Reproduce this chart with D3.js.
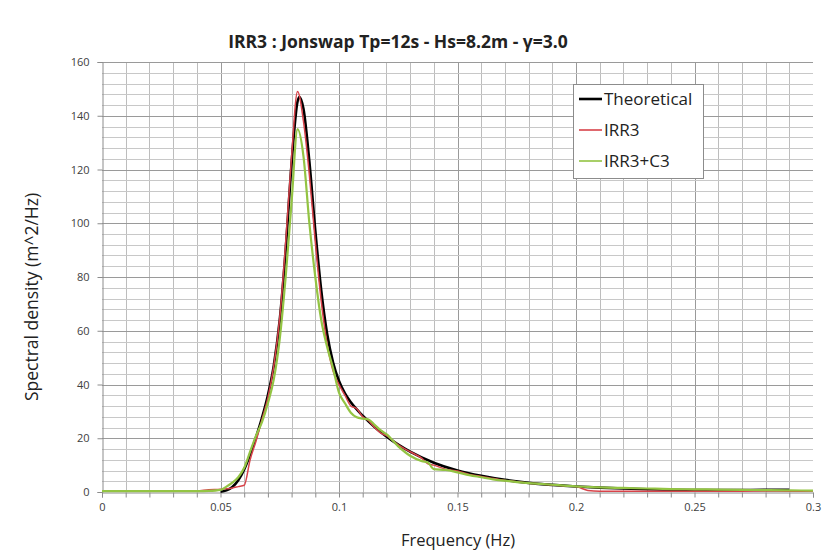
<!DOCTYPE html>
<html><head><meta charset="utf-8">
<script src="https://cdn.jsdelivr.net/npm/d3@7"></script>
<style>body{margin:0;background:#fff}svg{display:block}text{font-family:"Open Sans","Liberation Sans",sans-serif}</style>
</head><body><svg id="c" width="834" height="550"></svg>
<script>
const titleText = "IRR3 : Jonswap Tp=12s - Hs=8.2m - \u03b3=3.0";
const xLabel = "Frequency (Hz)";
const yLabel = "Spectral density (m^2/Hz)";
const seriesNames = ["Theoretical", "IRR3", "IRR3+C3"];
const xTicks = [0, 0.05, 0.1, 0.15, 0.2, 0.25, 0.3];
const xTickLabels = ["0", "0.05", "0.1", "0.15", "0.2", "0.25", "0.3"];
const yTicks = [0, 20, 40, 60, 80, 100, 120, 140, 160];

const theoFreq = [0.05,0.0525,0.055,0.0575,0.06,0.0625,0.065,0.0675,0.07,0.0725,0.075,0.0775,0.08,0.0825,0.0833,0.085,0.0875,0.09,0.0925,0.095,0.0975,0.1,0.1025,0.105,0.11,0.115,0.12,0.125,0.13,0.14,0.15,0.16,0.17,0.18,0.19,0.2,0.21,0.22,0.23,0.24,0.25,0.26,0.27,0.28,0.29];
const theoValues = [0.1,0.6,1.9,4.4,8.4,13.9,20.4,27.6,36.0,47.1,64.0,90.0,122.3,145.3,147.0,142.6,122.9,97.3,75.0,58.8,48.2,41.3,36.7,33.4,28.4,24.2,20.7,17.6,15.0,10.9,8.0,6.0,4.5,3.4,2.65,2.07,1.63,1.3,1.05,0.85,0.75,0.7,0.75,0.8,0.8];

const measFreq = [0,0.01,0.02,0.03,0.04,0.045,0.05,0.0525,0.055,0.0575,0.06,0.0625,0.065,0.0675,0.07,0.0725,0.075,0.0775,0.08,0.0825,0.085,0.0875,0.09,0.0925,0.095,0.0975,0.1,0.1025,0.105,0.1075,0.11,0.1125,0.115,0.1175,0.12,0.125,0.13,0.135,0.1375,0.14,0.145,0.15,0.155,0.16,0.165,0.17,0.175,0.18,0.185,0.19,0.195,0.2,0.205,0.21,0.22,0.23,0.24,0.25,0.26,0.27,0.28,0.29,0.3];
const irr3Values = [0.3,0.3,0.3,0.3,0.4,0.8,1.0,1.2,1.5,2.0,2.5,12,19,27,35,47,65,93,125,149,138,118,93,71,55,45,40,36,32,31,28,26.5,24,22,21,17.5,15,12.5,10.5,10,8.5,7.8,6.5,5.8,5.0,4.3,3.8,3.3,3.0,2.6,2.3,2.0,0.6,0.3,0.3,0.3,0.3,0.3,0.3,0.3,0.4,0.3,0.3];
const irrc3Values = [0.3,0.3,0.3,0.3,0.3,0.4,0.8,2.0,3.5,5.5,9,15,21,26,33,42,57,80,108,135,125,100,80,64,54,46,37,33,29.5,27.8,27.3,27,25,23,21.5,17,13.5,11.5,11,8.5,8.2,7.3,6.3,5.5,4.7,4.2,3.7,3.3,3.0,2.7,2.4,2.1,1.9,1.7,1.5,1.3,1.1,1.0,0.9,0.8,0.7,0.6,0.5];

const colors = ["#000000", "#d8434a", "#93c443"];
const widths = [2.6, 1.5, 2.2];

const svg = d3.select("#c");
const m = {l:102, r:813, t:62, b:492};
const x = d3.scaleLinear().domain([0,0.3]).range([m.l, m.r]);
const y = d3.scaleLinear().domain([0,160]).range([m.b, m.t]);

// grid
const g = svg.append("g");
g.selectAll(".vx").data(d3.range(1,30).map(i=>i/100)).enter().append("line")
  .attr("x1",d=>Math.round(x(d))+0.5).attr("x2",d=>Math.round(x(d))+0.5)
  .attr("y1",m.t).attr("y2",m.b)
  .attr("stroke",(d,i)=>((i+1)%5===0)?"#9a9a9a":"#bdbdbd").attr("stroke-width",1);
g.selectAll(".hy").data(d3.range(1,41).map(i=>i*4)).enter().append("line")
  .attr("y1",d=>Math.round(y(d))+0.5).attr("y2",d=>Math.round(y(d))+0.5)
  .attr("x1",m.l).attr("x2",m.r)
  .attr("stroke",(d)=>(d%20===0)?"#9a9a9a":"#c8c8c8").attr("stroke-width",1);

// axes
const yAxis = d3.axisLeft(y).tickValues(yTicks).tickSize(5).tickFormat(d3.format("d"));
const ya = svg.append("g").attr("transform",`translate(${m.l+0.5},0)`).call(yAxis);
ya.select(".domain").attr("stroke","#8c8c8c");
ya.selectAll(".tick line").attr("stroke","#8c8c8c");
ya.selectAll(".tick text").attr("font-size",11).attr("fill","#404040").attr("x",-13);

const xAxis = d3.axisBottom(x).tickValues(d3.range(0,31).map(i=>i/100)).tickSize(5)
  .tickFormat(d=>{const k=xTicks.findIndex(t=>Math.abs(t-d)<1e-9);return k>=0?xTickLabels[k]:"";});
const xa = svg.append("g").attr("transform",`translate(0,${m.b+0.5})`).call(xAxis);
xa.select(".domain").attr("stroke","#8c8c8c");
xa.selectAll(".tick line").attr("stroke","#8c8c8c");
xa.selectAll(".tick text").attr("font-size",11).attr("fill","#404040").attr("y",11);

// series
const lineSmooth = d3.line().x(d=>x(d[0])).y(d=>y(d[1])).curve(d3.curveMonotoneX);
const data = [
  d3.zip(theoFreq, theoValues),
  d3.zip(measFreq, irr3Values),
  d3.zip(measFreq, irrc3Values)
];
data.forEach((d,i)=>{
  svg.append("path").datum(d).attr("d", lineSmooth)
    .attr("fill","none").attr("stroke",colors[i]).attr("stroke-width",widths[i])
    .attr("stroke-linejoin","round");
});

// title & labels
svg.append("text").attr("x",398).attr("y",48).attr("text-anchor","middle")
  .attr("font-size",17.5).attr("font-weight","bold").attr("fill","#222").text(titleText);
svg.append("text").attr("x",458).attr("y",546).attr("text-anchor","middle")
  .attr("font-size",16.5).attr("fill","#222").text(xLabel);
svg.append("text").attr("transform","translate(38,297) rotate(-90)").attr("text-anchor","middle")
  .attr("font-size",17.5).attr("fill","#222").text(yLabel);

// legend
const lg = svg.append("g");
lg.append("rect").attr("x",573.5).attr("y",84.5).attr("width",130).attr("height",94)
  .attr("fill","#fff").attr("stroke","#8c8c8c");
seriesNames.forEach((n,i)=>{
  const yy = 99 + i*31;
  lg.append("line").attr("x1",579).attr("x2",602).attr("y1",yy).attr("y2",yy)
    .attr("stroke",colors[i]).attr("stroke-width",i===0?2.6:1.6);
  lg.append("text").attr("x",604).attr("y",yy+6).attr("font-size",17).attr("fill","#222").text(n);
});
</script></body></html>
